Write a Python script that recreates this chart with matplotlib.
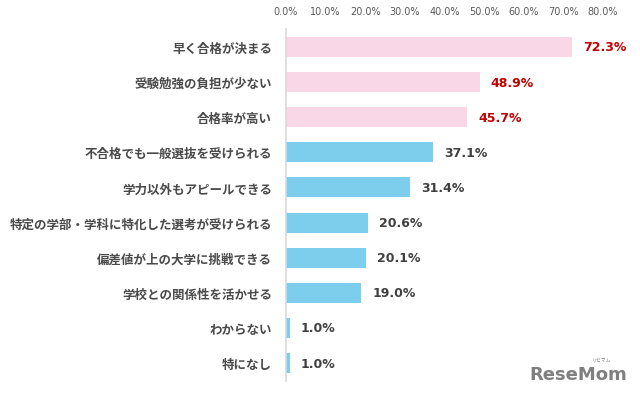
import numpy as np
import matplotlib.pyplot as plt

plt.rcParams['font.family'] = ['Noto Sans CJK JP', 'DejaVu Sans']

# データ
項目 = ["早く合格が決まる", "受験勉強の負担が少ない", "合格率が高い",
      "不合格でも一般選抜を受けられる", "学力以外もアピールできる",
      "特定の学部・学科に特化した選考が受けられる", "偏差値が上の大学に挑戦できる",
      "学校との関係性を活かせる", "わからない", "特になし"]
割合 = [72.3, 48.9, 45.7, 37.1, 31.4, 20.6, 20.1, 19.0, 1.0, 1.0]
上位 = 3  # 上位3項目はピンク＋赤字
目盛 = [0, 10, 20, 30, 40, 50, 60, 70, 80]

PINK = '#F9D7E7'
BLUE = '#7DCDEC'
RED = '#C00000'
GRAY = '#404040'

fig = plt.figure(figsize=(6.4, 4.02), dpi=100)
ax = fig.add_axes([286 / 640, 1 - 381.6 / 402, (603 - 286) / 640, (381.6 - 30.4) / 402])

y = np.arange(len(項目))
colors = [PINK if i < 上位 else BLUE for i in range(len(項目))]
ax.barh(y, 割合, height=0.57, color=colors)

for i, v in enumerate(割合):
    ax.text(v + 2.8, i, f"{v:.1f}%", va='center', ha='left', fontsize=9,
            fontweight='bold', family='DejaVu Sans',
            color=RED if i < 上位 else GRAY, clip_on=False)

ax.set_ylim(len(項目) - 0.5, -0.5)
ax.set_xlim(0, 80)
ax.set_yticks(y)
ax.set_yticklabels(項目, fontsize=9, color='#4a4a4a', fontweight='bold')
ax.set_xticks(目盛)
ax.set_xticklabels([f"{t:.1f}%" for t in 目盛], fontsize=7, color='#595959',
                   family='DejaVu Sans')
ax.xaxis.tick_top()
ax.tick_params(axis='y', length=0, pad=10)
ax.tick_params(axis='x', length=0, pad=10)

for s in ['top', 'right', 'bottom']:
    ax.spines[s].set_visible(False)
ax.spines['left'].set_color('#D9D9D9')
ax.spines['left'].set_linewidth(1.2)

# ロゴ
fig.text(0.98, 0.045, "ReseMom", ha='right', va='bottom', fontsize=13,
         fontweight='bold', color='#7F7F7F', family='DejaVu Sans')
fig.text(0.955, 0.098, "リセマム", ha='right', va='bottom', fontsize=3.5,
         color='#7F7F7F')

fig.savefig("out.png", dpi=100)
